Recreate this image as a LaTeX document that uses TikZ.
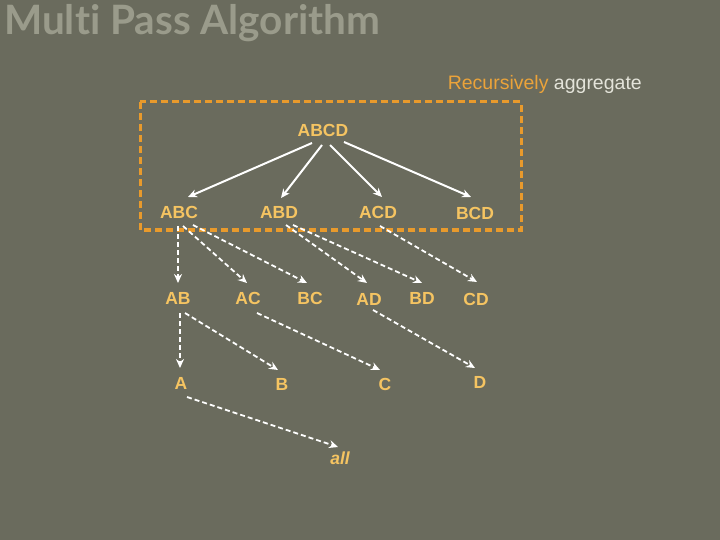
\documentclass[tikz,border=0pt]{standalone}
\usepackage{fontspec}
\setmainfont{Liberation Sans}
\newfontfamily\titlefont[Ligatures={NoCommon,NoRequired,NoContextual}]{Lato}
\usetikzlibrary{calc,arrows.meta}
\definecolor{bg}{HTML}{6A6B5D}
\definecolor{titlegray}{HTML}{9A9B8B}
\definecolor{lbl}{HTML}{F5C462}
\definecolor{boxorange}{HTML}{E89A2C}
\definecolor{recorange}{HTML}{EBA33A}
\definecolor{agg}{HTML}{E4E4DA}
\tikzset{
  lab/.style={text=lbl, font=\bfseries\fontsize{17.5}{20}\selectfont, inner sep=0pt},
  solidarr/.style={draw=white, line width=2pt, -{Stealth[length=9pt,width=8pt]}},
  dasharr/.style={draw=white, line width=1.8pt, dash pattern=on 5pt off 3pt, -{Stealth[length=9pt,width=8pt]}},
  groupbox/.style={draw=boxorange, line width=3pt, dash pattern=on 7pt off 4pt},
}
\begin{document}
\begin{tikzpicture}[x=1pt,y=-1pt]
\fill[bg] (0,0) rectangle (720,540);
\useasboundingbox (0,0) rectangle (720,540);
% title
\node[anchor=base west, inner sep=0pt, text=titlegray, font=\titlefont\bfseries\fontsize{40.5}{46}\selectfont] (title) at (4,35) {Multi Pass Algorithm};
% caption
\node[anchor=base east, inner sep=0pt, font=\fontsize{19.5}{22}\selectfont] (cap) at (642,90) {\textcolor{recorange}{Recursively} \textcolor{agg}{aggregate}};
% box
\draw[groupbox] (140,102) rectangle (521,230);
% nodes
\node[lab] (ABCD) at (323,130) {ABCD};
\node[lab] (ABC) at (179,212) {ABC};
\node[lab] (ABD) at (279,212) {ABD};
\node[lab] (ACD) at (378,212) {ACD};
\node[lab] (BCD) at (475,213) {BCD};
\node[lab] (AB) at (178,298) {AB};
\node[lab] (AC) at (248,298) {AC};
\node[lab] (BC) at (310,298) {BC};
\node[lab] (AD) at (369,299) {AD};
\node[lab] (BD) at (422,298) {BD};
\node[lab] (CD) at (476,299) {CD};
\node[lab] (A) at (181,383) {A};
\node[lab] (B) at (282,384) {B};
\node[lab] (C) at (385,384) {C};
\node[lab] (D) at (480,382) {D};
\node[lab, font=\bfseries\itshape\fontsize{17.5}{20}\selectfont] (all) at (340,458) {all};
% level 1
\draw[solidarr] ($(ABCD)+(-11,13)$) -- ($(ABC)+(9,-15)$);
\draw[solidarr] ($(ABCD)+(-1,15)$) -- ($(ABD)+(2,-14)$);
\draw[solidarr] ($(ABCD)+(7,15)$) -- ($(ACD)+(4,-15)$);
\draw[solidarr] ($(ABCD)+(21,12)$) -- ($(BCD)+(-4,-16)$);
% level 2
\draw[dasharr] ($(ABC)+(-1,14)$) -- ($(AB)+(0,-15)$);
\draw[dasharr] ($(ABC)+(4,14)$) -- ($(AC)+(-1,-15)$);
\draw[dasharr] ($(ABC)+(14,13)$) -- ($(BC)+(-3,-15)$);
\draw[dasharr] ($(ABD)+(7,13)$) -- ($(AD)+(-2,-16)$);
\draw[dasharr] ($(ABD)+(14,13)$) -- ($(BD)+(0,-15)$);
\draw[dasharr] ($(ACD)+(2,14)$) -- ($(CD)+(1,-17)$);
% level 3
\draw[dasharr] ($(AB)+(2,15)$) -- ($(A)+(-1,-15)$);
\draw[dasharr] ($(AB)+(7,15)$) -- ($(B)+(-4,-14)$);
\draw[dasharr] ($(AC)+(9,15)$) -- ($(C)+(-5,-14)$);
\draw[dasharr] ($(AD)+(4,11)$) -- ($(D)+(-5,-14)$);
% level 4
\draw[dasharr] ($(A)+(6,14)$) -- ($(all)+(-2,-11)$);
\end{tikzpicture}
\end{document}
